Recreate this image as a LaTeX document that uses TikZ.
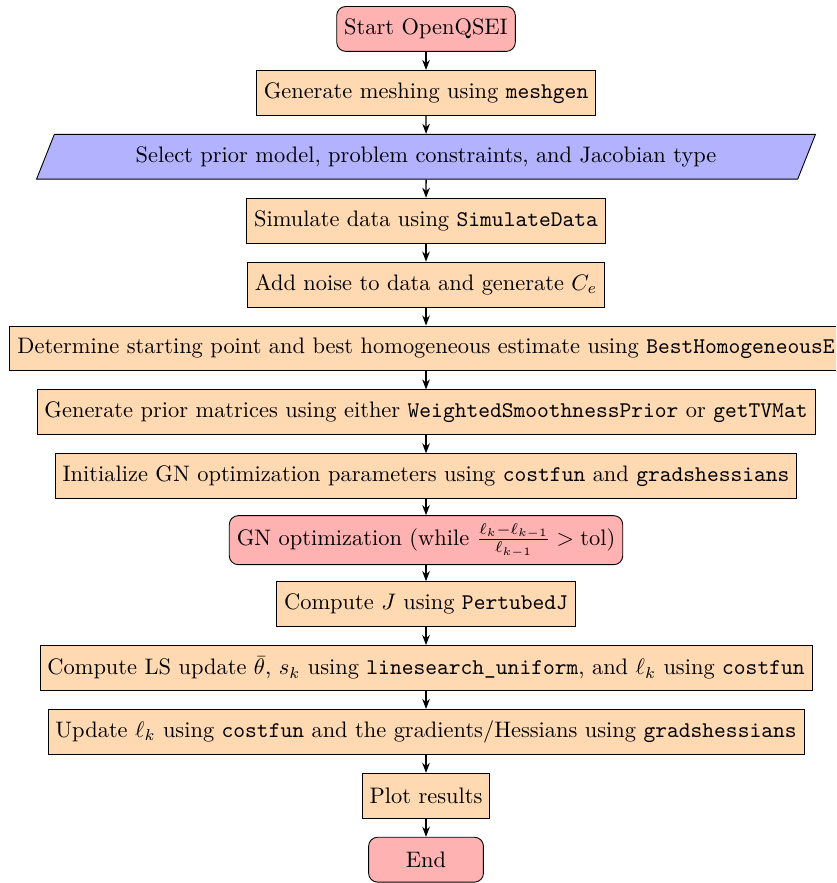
\documentclass[tikz,border=0pt]{standalone}
\usepackage{amsmath}
\usepackage{tikz}
\usetikzlibrary{arrows.meta, positioning, shapes.geometric}

\begin{document}
\begin{tikzpicture}[
        node distance=28.5pt,
        startstop/.style={draw, rounded corners, fill=red!30, minimum width=1.8cm, minimum height=20pt},
        process/.style={draw, fill=orange!30, minimum height=20pt},
        io/.style={draw, trapezium, trapezium left angle=68, trapezium right angle=112, trapezium stretches=true, fill=blue!30, minimum width=348pt, minimum height=20pt},
        arrow/.style={-{Stealth[length=4.5pt]}, semithick}
    ]

    % Page frame (the right side and the bottom are cut)
    \path[use as bounding box, clip] (-190pt,12.9pt) rectangle (182.9pt,-380.9pt);

    % Nodes
    \node[startstop] (start) {Start OpenQSEI};
    \node[process, below of=start] (mesh) {Generate meshing using \texttt{meshgen}};
    \node[io, below of=mesh] (select) {Select prior model, problem constraints, and Jacobian type};
    \node[process, below of=select] (simulate) {Simulate data using \texttt{SimulateData}};
    \node[process, below of=simulate] (noise) {Add noise to data and generate $C_e$};
    \node[process, below of=noise] (homog) {Determine starting point and best homogeneous estimate using \texttt{BestHomogeneousE}};
    \node[process, below of=homog] (prior) {Generate prior matrices using either \texttt{WeightedSmoothnessPrior} or \texttt{getTVMat}};
    \node[process, below of=prior] (init) {Initialize GN optimization parameters using \texttt{costfun} and \texttt{gradshessians}};
    \node[startstop, below of=init] (gn) {GN optimization (while $\frac{\ell_k-\ell_{k-1}}{\ell_{k-1}} > \mathrm{tol}$)};
    \node[process, below of=gn] (jac) {Compute $J$ using \texttt{PertubedJ}};
    \node[process, below of=jac] (ls) {Compute LS update $\bar{\theta}$, $s_k$ using \texttt{linesearch\_uniform}, and $\ell_k$ using \texttt{costfun}};
    \node[process, below of=ls] (update) {Update $\ell_k$ using \texttt{costfun} and the gradients/Hessians using \texttt{gradshessians}};
    \node[process, below of=update] (plot) {Plot results};
    \node[startstop, below of=plot] (stop) {End};

    % Arrows
    \draw[arrow] (start) -- (mesh);
    \draw[arrow] (mesh) -- (select);
    \draw[arrow] (select) -- (simulate);
    \draw[arrow] (simulate) -- (noise);
    \draw[arrow] (noise) -- (homog);
    \draw[arrow] (homog) -- (prior);
    \draw[arrow] (prior) -- (init);
    \draw[arrow] (init) -- (gn);
    \draw[arrow] (gn) -- (jac);
    \draw[arrow] (jac) -- (ls);
    \draw[arrow] (ls) -- (update);
    \draw[arrow] (update) -- (plot);
    \draw[arrow] (plot) -- (stop);

\end{tikzpicture}
\end{document}
